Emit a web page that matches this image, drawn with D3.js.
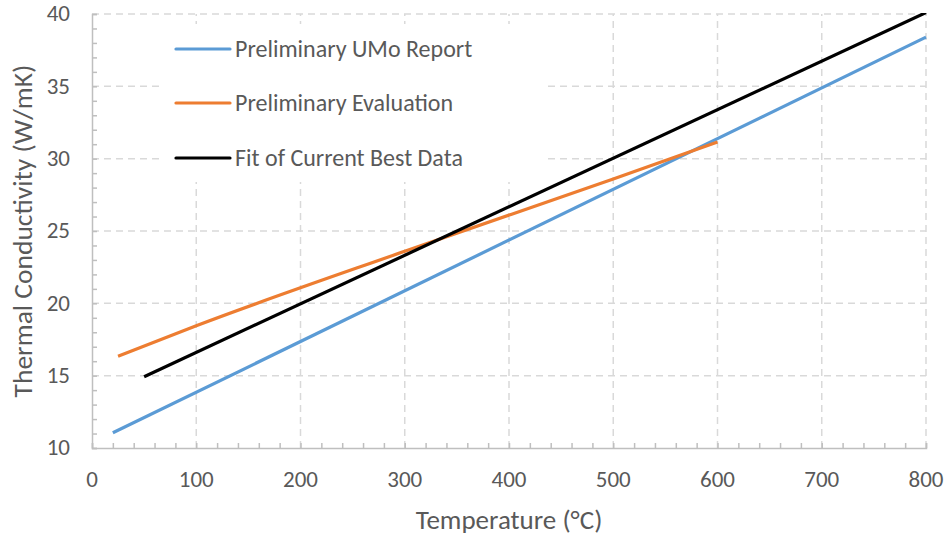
<!DOCTYPE html>
<html>
<head>
<meta charset="utf-8">
<script src="https://cdn.jsdelivr.net/npm/d3@7"></script>
<style>
  html, body { margin: 0; padding: 0; background: #fff; }
  svg text { font-family: Carlito, Lato, "Open Sans", sans-serif; fill: #595959; }
</style>
</head>
<body>
<svg id="chart" width="946" height="534"></svg>
<script>
// Thermal conductivity vs temperature
const xTicks = [0, 100, 200, 300, 400, 500, 600, 700, 800];
const yTicks = [10, 15, 20, 25, 30, 35, 40];

const umoReport = [[20, 11.05], [800, 38.4]];
const prelimEval = [[25, 16.35], [100, 18.45], [300, 23.6], [500, 28.6], [600, 31.15]];
const bestFit = [[50, 14.93], [800, 40.1]];

const seriesNames = ["Preliminary UMo Report", "Preliminary Evaluation", "Fit of Current Best Data"];
const seriesColors = ["#5b9bd5", "#ed7d31", "#000000"];
const seriesData = [umoReport, prelimEval, bestFit];

const margin = { left: 92, right: 946 - 926, top: 14, bottom: 534 - 448 };
const W = 946, H = 534;
const svg = d3.select("#chart");

const x = d3.scaleLinear().domain([0, 800]).range([margin.left, W - margin.right]);
const y = d3.scaleLinear().domain([10, 40]).range([H - margin.bottom, margin.top]);

// dashed grid
const grid = svg.append("g").attr("stroke", "#d9d9d9").attr("stroke-width", 1.5)
  .attr("stroke-dasharray", "7,5");
grid.selectAll("line.v").data(xTicks.filter(d => d > 0)).join("line")
  .attr("x1", d => x(d)).attr("x2", d => x(d))
  .attr("y1", y(10)).attr("y2", y(40));
grid.selectAll("line.h").data(yTicks.filter(d => d > 10)).join("line")
  .attr("x1", x(0)).attr("x2", x(800))
  .attr("y1", d => y(d)).attr("y2", d => y(d));

// axes with inward minor ticks
const minorX = d3.range(0, 801, 20);
const minorY = d3.range(10, 41, 1);
const xAxis = svg.append("g").attr("transform", `translate(0,${y(10)})`)
  .call(d3.axisTop(x).tickValues(minorX).tickSize(5).tickFormat(""));
const yAxis = svg.append("g").attr("transform", `translate(${x(0)},0)`)
  .call(d3.axisRight(y).tickValues(minorY).tickSize(5).tickFormat(""));
[xAxis, yAxis].forEach(a => {
  a.selectAll("path, line").attr("stroke", "#bfbfbf").attr("stroke-width", 1.5);
});

// tick labels
const tickSize = 23;
svg.append("g").selectAll("text").data(xTicks).join("text")
  .attr("x", d => x(d)).attr("y", 486.5)
  .attr("text-anchor", "middle").attr("font-size", tickSize)
  .text(d => d);
svg.append("g").selectAll("text").data(yTicks).join("text")
  .attr("x", 70).attr("y", d => y(d) + 7.3)
  .attr("text-anchor", "end").attr("font-size", tickSize)
  .text(d => d);

// axis titles
svg.append("text").attr("x", 509).attr("y", 528.5)
  .attr("text-anchor", "middle").attr("font-size", 27)
  .text("Temperature (\u00B0C)");
svg.append("text")
  .attr("transform", `translate(31.5,${(y(10) + y(40)) / 2}) rotate(-90)`)
  .attr("text-anchor", "middle").attr("font-size", 27.5)
  .text("Thermal Conductivity (W/mK)");

// clip to plot area
svg.append("clipPath").attr("id", "plot").append("rect")
  .attr("x", x(0)).attr("y", y(40) - 1)
  .attr("width", x(800) - x(0) + 2).attr("height", y(10) - y(40) + 1);

// legend background hides grid behind it
svg.append("rect").attr("x", 160).attr("y", 24).attr("width", 384).attr("height", 158)
  .attr("fill", "#fff");

const line = d3.line().x(d => x(d[0])).y(d => y(d[1]));
const smooth = d3.line().x(d => x(d[0])).y(d => y(d[1])).curve(d3.curveMonotoneX);
svg.append("g").attr("clip-path", "url(#plot)")
  .selectAll("path").data(seriesData).join("path")
  .attr("d", (d, i) => (i === 1 ? smooth : line)(d))
  .attr("fill", "none")
  .attr("stroke", (d, i) => seriesColors[i])
  .attr("stroke-width", 3.2);

// legend
const legend = svg.append("g");
const ly = [49, 103, 158];
seriesNames.forEach((name, i) => {
  legend.append("line").attr("x1", 176).attr("x2", 230)
    .attr("y1", ly[i]).attr("y2", ly[i])
    .attr("stroke", seriesColors[i]).attr("stroke-width", 3.2)
    .attr("stroke-linecap", "round");
  legend.append("text").attr("x", 235).attr("y", ly[i] + 7.7)
    .attr("font-size", 24).text(name);
});
</script>
</body>
</html>
